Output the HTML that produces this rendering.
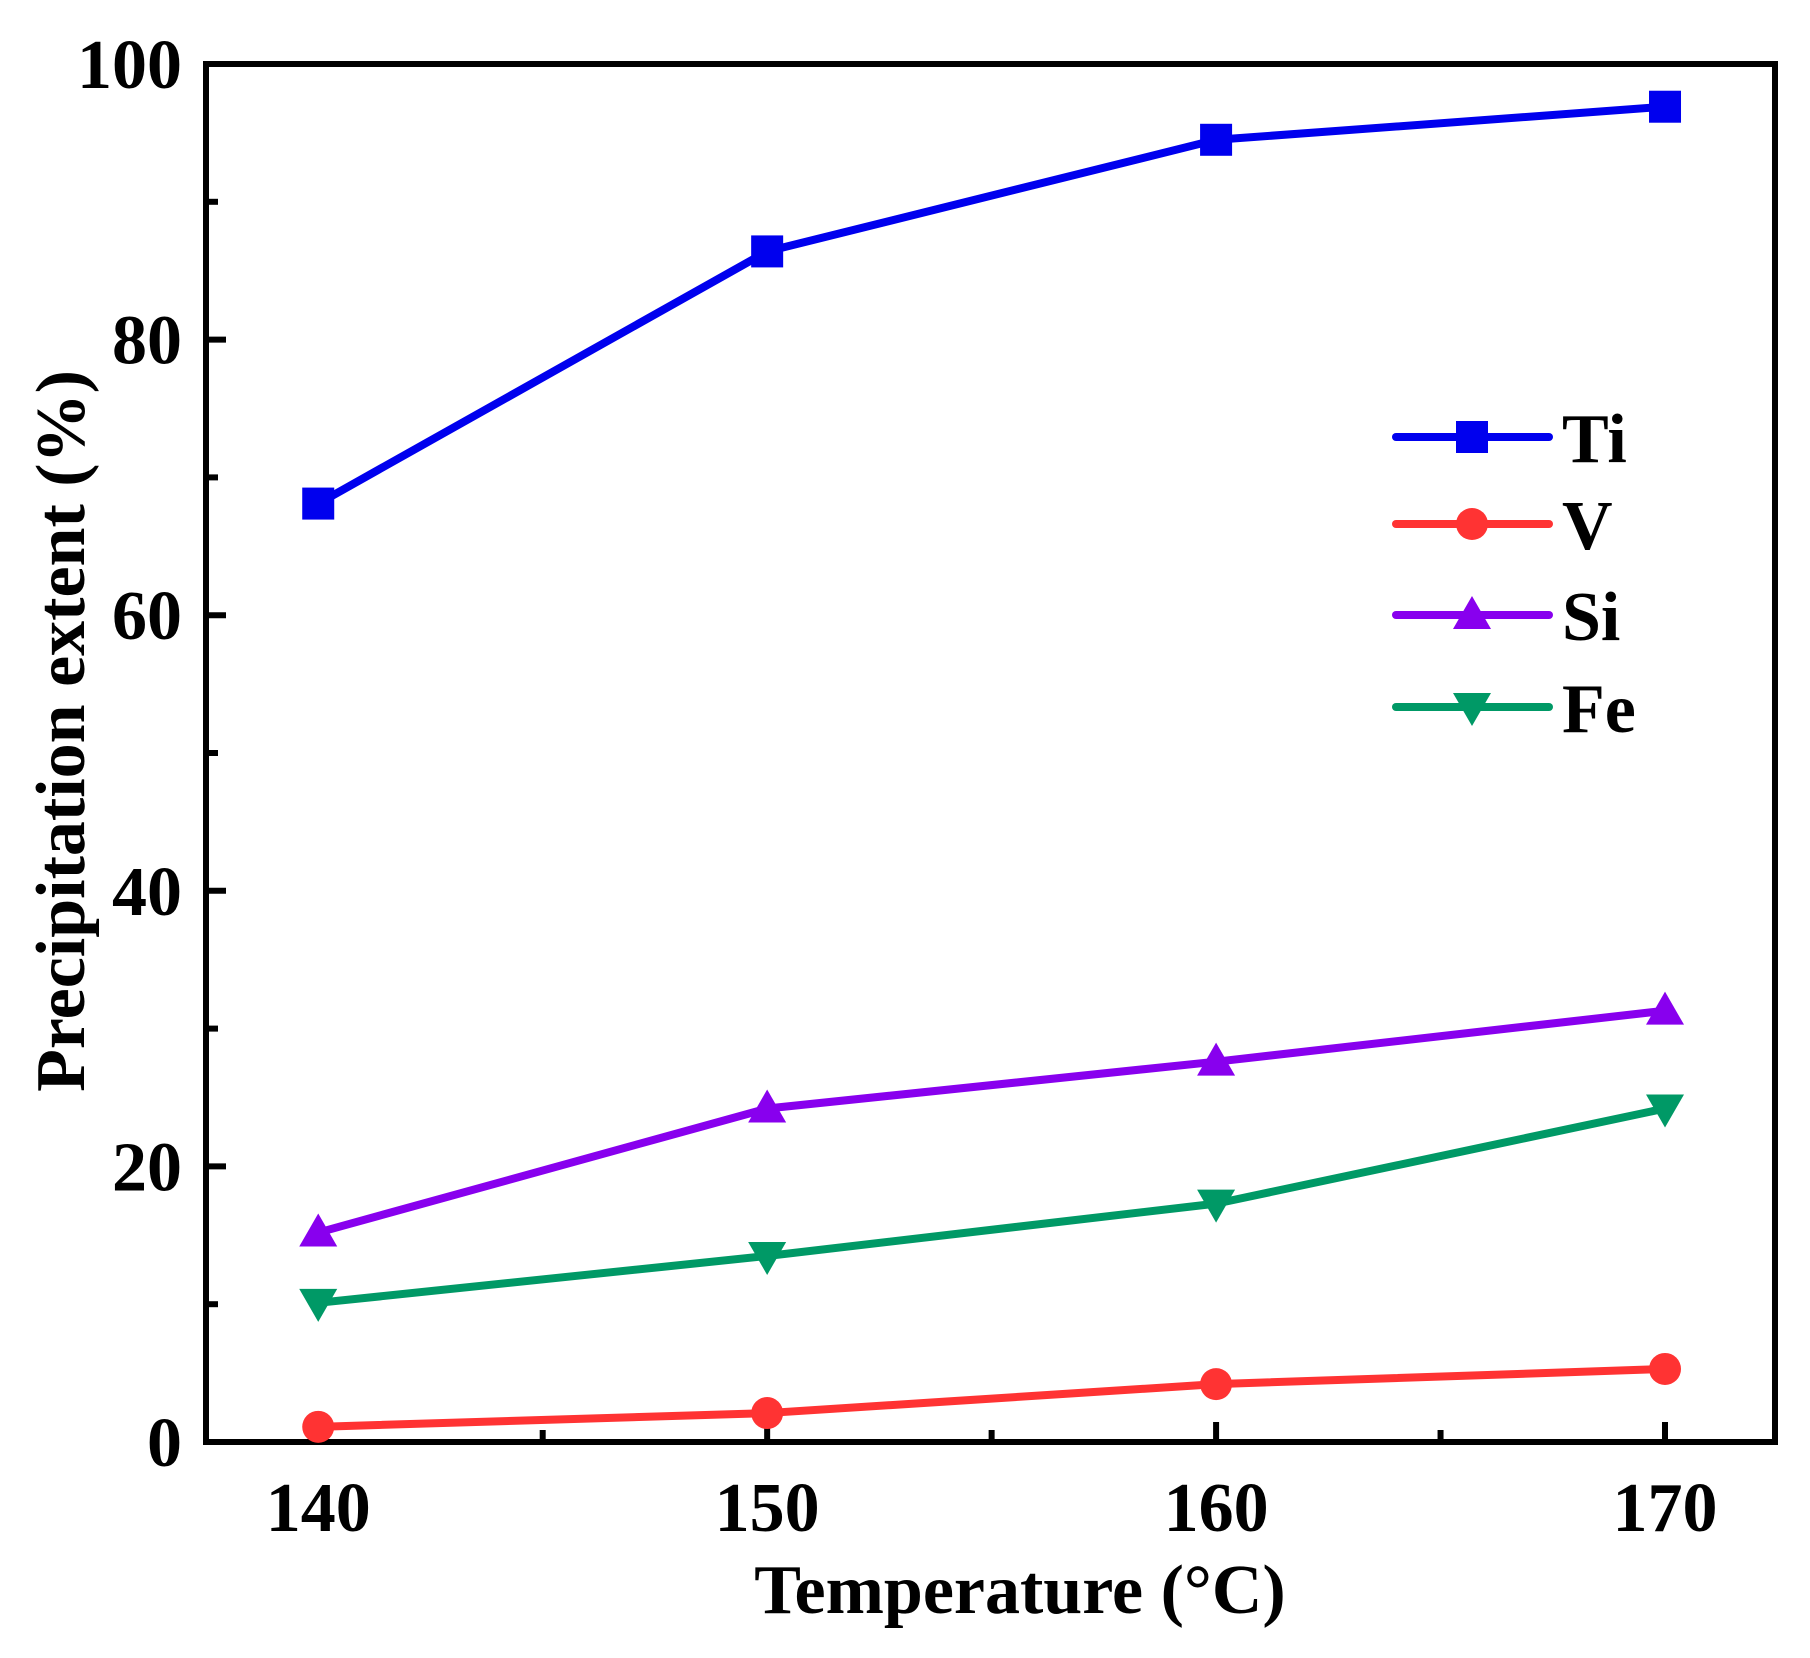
<!DOCTYPE html>
<html><head><meta charset="utf-8"><style>
html,body{margin:0;padding:0;background:#fff;}
svg text{font-family:"Liberation Serif",serif;font-weight:bold;fill:#000;}
</style></head><body>
<svg id="chart" width="1810" height="1653" viewBox="0 0 1810 1653"></svg>
<script>
const categories = [140, 150, 160, 170];
const tiValues = [68.1, 86.4, 94.5, 96.9];
const vValues = [1.1, 2.1, 4.2, 5.3];
const siValues = [15.2, 24.2, 27.6, 31.3];
const feValues = [10.1, 13.5, 17.3, 24.2];
const yTickLabels = [0, 20, 40, 60, 80, 100];
const xTickLabels = [140, 150, 160, 170];
const seriesNames = ["Ti", "V", "Si", "Fe"];

const NS = "http://www.w3.org/2000/svg";
const svg = document.getElementById('chart');
const L = 206, R = 1775, T = 64, B = 1442;
const xMin = 137.5, xMax = 172.45, yMin = 0, yMax = 100;
const xs = v => L + (v - xMin) / (xMax - xMin) * (R - L);
const ys = v => B - (v - yMin) / (yMax - yMin) * (B - T);
function mk(tag, attrs, parent) {
  const e = document.createElementNS(NS, tag);
  for (const k in attrs) e.setAttribute(k, attrs[k]);
  (parent || svg).appendChild(e);
  return e;
}
const frame = mk('rect', {x: L, y: T, width: R - L, height: B - T, fill: 'none', stroke: '#000', 'stroke-width': 6});


yTickLabels.forEach(v => {
  const t = mk('line', {x1: L, x2: L + 20, y1: ys(v), y2: ys(v), stroke: '#000', 'stroke-width': 6});
  
  
  const lb = mk('text', {x: 182, y: ys(v) + 24, 'text-anchor': 'end', 'font-size': 70});
  lb.textContent = v;
  
  
  if (v < 100) {
    const m = mk('line', {x1: L, x2: L + 12, y1: ys(v + 10), y2: ys(v + 10), stroke: '#000', 'stroke-width': 6});
    
    
  }
});
xTickLabels.forEach((v, i) => {
  const t = mk('line', {x1: xs(v), x2: xs(v), y1: B, y2: B - 20, stroke: '#000', 'stroke-width': 6});
  
  
  const lb = mk('text', {x: xs(v), y: 1531, 'text-anchor': 'middle', 'font-size': 70});
  lb.textContent = v;
  
  
  if (i < xTickLabels.length - 1) {
    const m = mk('line', {x1: xs(v + 5), x2: xs(v + 5), y1: B, y2: B - 12, stroke: '#000', 'stroke-width': 6});
    
    
  }
});
const xt = mk('text', {x: 1020, y: 1613, 'text-anchor': 'middle', 'font-size': 70});
xt.textContent = 'Temperature (°C)';


const yt = mk('text', {x: 0, y: 0, 'text-anchor': 'middle', 'font-size': 70, transform: 'translate(84,731) rotate(-90)'});
yt.textContent = 'Precipitation extent (%)';



function marker(type, cx, cy, color, parent) {
  const s = 16;
  let e;
  if (type === 'square') e = mk('rect', {x: cx - s, y: cy - s, width: 2 * s, height: 2 * s, fill: color}, parent);
  else if (type === 'circle') e = mk('circle', {cx: cx, cy: cy, r: s, fill: color}, parent);
  else if (type === 'up') e = mk('polygon', {points: `${cx},${cy - s - 3} ${cx + s + 3},${cy + s - 2} ${cx - s - 3},${cy + s - 2}`, fill: color}, parent);
  else e = mk('polygon', {points: `${cx},${cy + s + 3} ${cx + s + 3},${cy - s + 2} ${cx - s - 3},${cy - s + 2}`, fill: color}, parent);
  return e;
}
const seriesData = [tiValues, vValues, siValues, feValues];
const colors = ['#0000ee', '#ff3333', '#8800ee', '#009966'];
const markers = ['square', 'circle', 'up', 'down'];
seriesData.forEach((vals, si) => {
  const g = mk('g', {});
  
  
  const pts = vals.map((v, i) => xs(categories[i]) + ',' + ys(v)).join(' ');
  const pl = mk('polyline', {points: pts, fill: 'none', stroke: colors[si], 'stroke-width': 8, 'stroke-linejoin': 'round'}, g);
  
  
  vals.forEach((v, i) => {
    const m = marker(markers[si], xs(categories[i]), ys(v), colors[si], g);
    
    
  });
  const ly = [437, 524, 615, 707][si];
  const lg = mk('g', {});
  
  
  mk('line', {x1: 1396, x2: 1549, y1: ly, y2: ly, stroke: colors[si], 'stroke-width': 8, 'stroke-linecap': 'round'}, lg);
  marker(markers[si], 1472, ly, colors[si], lg);
  const tx = mk('text', {x: 1562, y: ly + 25, 'font-size': 70}, lg);
  tx.textContent = seriesNames[si];
});
</script>
</body></html>
